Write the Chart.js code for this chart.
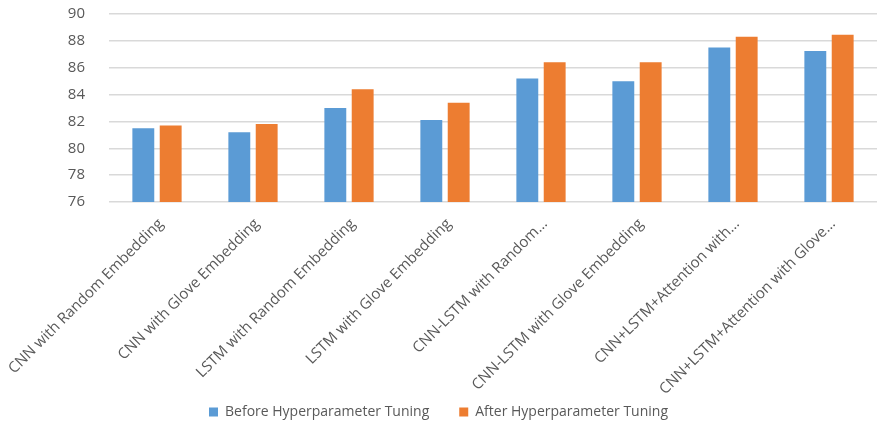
<!DOCTYPE html>
<html>
<head>
<meta charset="utf-8">
<script src="https://cdn.jsdelivr.net/npm/chart.js@4/dist/chart.umd.min.js"></script>
<style>
  html, body { margin: 0; padding: 0; background: #fff; }
  #wrap { width: 887px; height: 429px; }
</style>
</head>
<body>
<div id="wrap"><canvas id="myChart"></canvas></div>
<script>
var modelos = ["CNN with Random Embedding", "CNN with Glove Embedding", "LSTM with Random Embedding", "LSTM with Glove Embedding",
               "CNN-LSTM with Random...", "CNN-LSTM with Glove Embedding", "CNN+LSTM+Attention with...", "CNN+LSTM+Attention with Glove..."];
var antes = [81.5, 81.2, 83.0, 82.1, 85.2, 85.0, 87.5, 87.25];
var depois = [81.7, 81.8, 84.4, 83.4, 86.4, 86.4, 88.3, 88.45];
var yTicks = [76, 78, 80, 82, 84, 86, 88, 90];

var cinza = "#595959";
var ctx = document.getElementById("myChart");
var myChart = new Chart(ctx, {
    type: 'bar',
    data: {
        labels: modelos,
        datasets: [
            {
                label: "Before Hyperparameter Tuning",
                data: antes,
                backgroundColor: "#5B9BD5",
                categoryPercentage: 0.57,
                barPercentage: 0.8
            },
            {
                label: "After Hyperparameter Tuning",
                data: depois,
                backgroundColor: "#ED7D31",
                categoryPercentage: 0.57,
                barPercentage: 0.8
            }
        ]
    },
    options: {
        responsive: true,
        maintainAspectRatio: false,
        animation: false,
        layout: { padding: { top: 14, right: 10, bottom: 0, left: 0 } },
        plugins: {
            tooltip: { enabled: false },
            legend: {
                position: 'bottom',
                labels: {
                    boxWidth: 9, boxHeight: 9, padding: 30,
                    color: cinza,
                    font: { family: "Open Sans", size: 14 }
                }
            }
        },
        scales: {
            x: {
                grid: { display: false },
                border: { display: false },
                ticks: {
                    color: cinza, autoSkip: false,
                    minRotation: 45, maxRotation: 45, padding: 5, labelOffset: 4,
                    font: { family: "Open Sans", size: 15 }
                },
                afterFit: function (s) {
                    s.height = 173; s.paddingLeft = 0; s.paddingRight = 0;
                    // let the long rotated labels run past the axis box
                    s._computeLabelArea = function () { return undefined; };
                }
            },
            y: {
                min: 76, max: 90,
                afterBuildTicks: function (s) { s.ticks = yTicks.map(function (v) { return { value: v }; }); },
                grid: { color: "#d9d9d9", lineWidth: 1.5, drawTicks: false },
                border: { display: false },
                ticks: {
                    color: cinza, padding: 24,
                    font: { family: "Open Sans", size: 15 }
                },
                afterFit: function (s) { s.width = 109; s.paddingTop = 9; s.paddingBottom = 9; }
            }
        }
    }
});
</script>
</body>
</html>
